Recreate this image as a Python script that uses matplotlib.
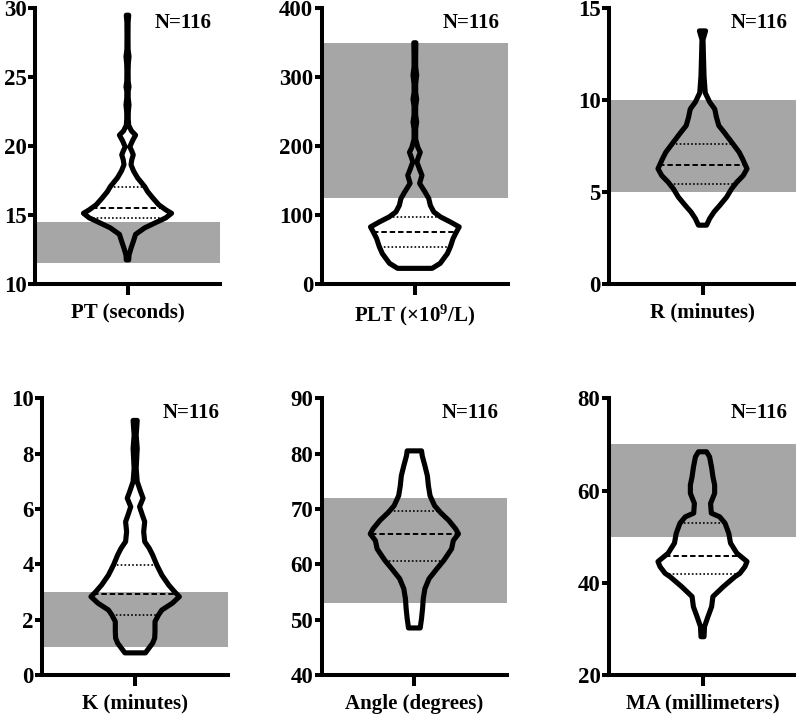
import numpy as np
import matplotlib
matplotlib.use('Agg')
import matplotlib.pyplot as plt

plt.rcParams['font.family'] = ['Liberation Serif', 'DejaVu Serif']
plt.rcParams['font.weight'] = 'bold'
plt.rcParams['mathtext.fontset'] = 'custom'
plt.rcParams['mathtext.rm'] = 'Liberation Serif:bold'
plt.rcParams['mathtext.bf'] = 'Liberation Serif:bold'
plt.rcParams['mathtext.it'] = 'Liberation Serif:bold:italic'

# ---------------- data ----------------
labels = ['PT (seconds)', 'PLT (×10$^{9}$/L)', 'R (minutes)',
          'K (minutes)', 'Angle (degrees)', 'MA (millimeters)']
n_text = 'N=116'

y_limits = [(10, 30), (0, 400), (0, 15), (0, 10), (40, 90), (20, 80)]
y_ticks = [[10, 15, 20, 25, 30], [0, 100, 200, 300, 400], [0, 5, 10, 15],
           [0, 2, 4, 6, 8, 10], [40, 50, 60, 70, 80, 90], [20, 40, 60, 80]]

ref_ranges = [(11.5, 14.5), (125, 350), (5, 10), (1, 3), (53, 72), (50, 70)]

# (Q1, median, Q3)
quartiles = [(14.8, 15.5, 17.05), (53, 76, 97), (5.43, 6.45, 7.6),
             (2.16, 2.92, 3.96), (60.6, 65.4, 69.7), (42.0, 45.9, 52.9)]

# violin density profiles (value, relative density)
pt_y = [11.75, 12.1, 12.6, 13.07, 13.6, 14.07, 14.42, 14.8, 15.13, 15.38, 15.75,
        16.25, 16.7, 17.07, 17.7, 18.2, 18.65, 19.0, 19.37, 19.6, 19.95, 20.4,
        20.8, 21.1, 21.5, 22.0, 22.5, 23.0, 23.5, 24.0, 24.3, 24.7, 25.4, 26.0,
        26.5, 27.0, 28.0, 29.0, 29.5]
pt_w = [1.2, 1.5, 3.5, 5.7, 8, 17, 27, 38, 43.7, 38, 31,
        25, 20, 17, 10, 6, 3.5, 4.2, 5.7, 4.5, 2.3, 5,
        8, 4, 1.2, 0.7, 0.8, 1.5, 0.7, 0.7, 1.5, 0.7, 0.6, 0.8,
        1.5, 0.6, 0.5, 0.6, 1.2]

plt_y = [22.7, 30, 44, 54, 66, 75.6, 82.8, 90, 97.3, 104.5, 114, 124, 133.5,
         146, 157.6, 167, 177, 184, 191, 198, 210, 225, 235, 245, 258, 268,
         278, 290, 303, 315, 330, 350]
plt_w = [17, 25, 32, 35, 37.7, 41, 43.7, 35, 25.3, 18.7, 15.3, 13.7, 10,
         4.7, 7, 4.5, 2, 3.5, 5.3, 3, 0.8, 0.8, 1.8, 0.8, 0.8, 1.8,
         0.8, 0.8, 1.8, 0.8, 0.8, 1.0]

r_y = [3.2, 3.56, 3.92, 4.28, 4.73, 5.19, 5.54, 5.9, 6.27, 6.81, 7.17, 7.71,
       8.25, 8.62, 9.07, 9.52, 9.9, 10.4, 11.3, 12.25, 13.3, 13.77]
r_w = [4, 7, 11.3, 17, 23.7, 28.7, 33.7, 40, 43.7, 39.3, 36, 28.7,
       21.3, 16, 13.7, 12, 7, 2.7, 1.5, 1, 0.5, 3]

k_y = [0.8, 0.95, 1.15, 1.33, 1.56, 1.93, 2.17, 2.35, 2.59, 2.83, 3.01, 3.25,
       3.61, 3.98, 4.34, 4.58, 4.82, 5.18, 5.54, 5.78, 6.08, 6.39, 6.63, 6.99,
       7.47, 7.83, 8.19, 8.67, 9.2]
k_w = [10, 13, 17, 19, 19.3, 19.3, 22.7, 26, 36, 43, 38.3, 32.7,
       26, 21, 17, 13.7, 9.3, 8.3, 9.3, 7, 4.3, 7.7, 5.3, 2,
       1, 1.5, 2, 1, 2]

ang_y = [48.5, 50.2, 52, 53.8, 55.6, 57.4, 59.2, 60.7, 61.6, 62.8, 64.3, 65.5,
         66.4, 67.9, 69.4, 70.6, 72.4, 74.2, 76, 77.8, 79.6, 80.5]
ang_w = [5.7, 7, 8, 8.7, 10.3, 14.3, 22, 28.7, 32, 36.3, 38, 43,
         40.3, 33.7, 25.3, 19.7, 15.3, 13.7, 12.7, 10.3, 7.7, 7]

ma_y = [28.3, 30.5, 32.6, 34.8, 37.0, 39.1, 41.3, 42.05, 43.5, 44.6, 46.4,
        48.6, 50.7, 52.9, 54.3, 55.1, 57.2, 59.4, 61.2, 63.0, 65.0, 67.3, 68.4]
ma_w = [1.5, 2, 5.3, 9, 10.3, 20.3, 32, 37, 42, 44, 34,
        27.7, 26, 22.3, 17, 8.7, 8, 12, 12, 10.3, 9, 7, 4]

profiles = [(pt_y, pt_w), (plt_y, plt_w), (r_y, r_w),
            (k_y, k_w), (ang_y, ang_w), (ma_y, ma_w)]

# ---------------- layout ----------------
W, H = 796, 715
fig = plt.figure(figsize=(W / 100, H / 100), dpi=100)

# (left, top, right, bottom) in pixels
rects = [(35, 8.3, 220, 284), (321.7, 8.3, 508, 284), (609, 8.3, 796, 284),
         (42.3, 398.3, 228, 675), (321.7, 398.3, 507, 675), (609, 398.3, 796, 675)]

HALF = 0.476      # max violin half width in axis units (x from -1 to 1)
BAND = '#a6a6a6'

for i in range(6):
    l, t, r, b = rects[i]
    ax = fig.add_axes([l / W, 1 - b / H, (r - l) / W, (b - t) / H])
    ax.set_xlim(-1, 1)
    ax.set_ylim(*y_limits[i])
    ax.set_yticks(y_ticks[i])
    ax.set_xticks([0])
    ax.set_xticklabels([labels[i]], fontsize=15, fontweight='bold')
    ax.tick_params(axis='y', length=5, width=2.9, pad=1.2, labelsize=16.5)
    ax.tick_params(axis='x', length=8, width=2.9, pad=5.5)
    for lab in ax.get_yticklabels():
        lab.set_fontweight('bold')
    for s in ['top', 'right']:
        ax.spines[s].set_visible(False)
    for s in ['left', 'bottom']:
        ax.spines[s].set_linewidth(2.9)
    ax.patch.set_alpha(0)

    lo, hi = ref_ranges[i]
    ax.axhspan(lo, hi, xmin=0, xmax=1, color=BAND, lw=0, zorder=0)

    yv = np.array(profiles[i][0], dtype=float)
    wv = np.array(profiles[i][1], dtype=float)
    wv = wv / wv.max() * HALF
    xs = np.concatenate([wv, -wv[::-1]])
    ys = np.concatenate([yv, yv[::-1]])
    ax.fill(xs, ys, facecolor='none', edgecolor='black', lw=3.7,
            joinstyle='round', zorder=3)

    q1, med, q3 = quartiles[i]
    for q, style, lw in [(q1, (0, (1.0, 1.3)), 1.2), (q3, (0, (1.0, 1.3)), 1.2),
                         (med, (0, (2.8, 1.5)), 1.4)]:
        hw = np.interp(q, yv, wv)
        ax.plot([-hw, hw], [q, q], color='black', lw=lw, linestyle=style,
                zorder=2, solid_capstyle='butt')

    ax.text(1 - 8 / (r - l), 1 - 15 / (b - t), n_text, transform=ax.transAxes,
            ha='right', va='center', fontsize=15, fontweight='bold')

fig.savefig('out.png', dpi=100)
